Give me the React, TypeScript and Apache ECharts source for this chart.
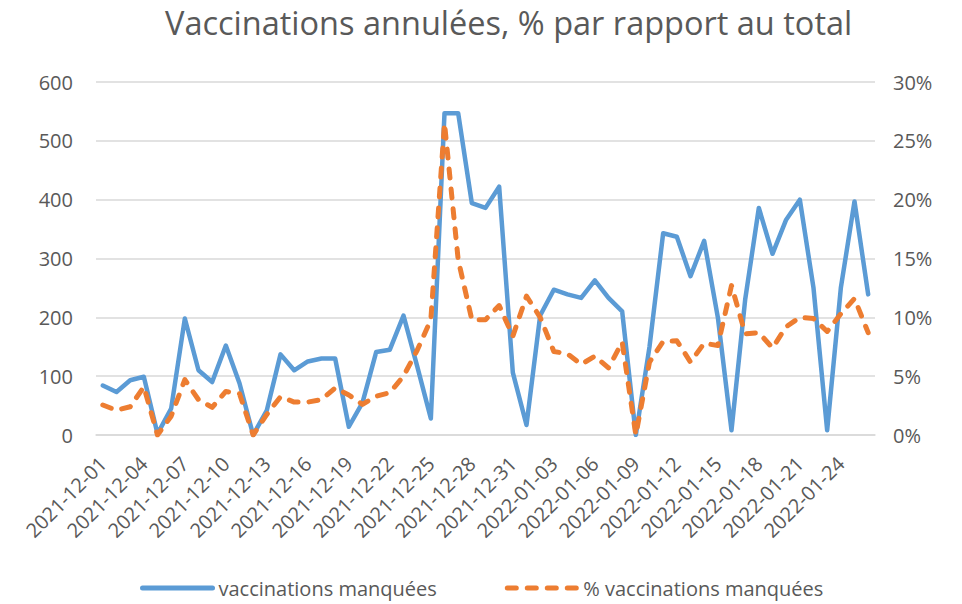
import React, { useEffect, useRef } from "react";
import * as echarts from "echarts";

const TITLE = "Vaccinations annulées, % par rapport au total";
const SERIES_COUNT_NAME = "vaccinations manquées";
const SERIES_PCT_NAME = "% vaccinations manquées";

const dates: string[] = [
  "2021-12-01", "2021-12-02", "2021-12-03", "2021-12-04", "2021-12-05", "2021-12-06", "2021-12-07",
  "2021-12-08", "2021-12-09", "2021-12-10", "2021-12-11", "2021-12-12", "2021-12-13", "2021-12-14",
  "2021-12-15", "2021-12-16", "2021-12-17", "2021-12-18", "2021-12-19", "2021-12-20", "2021-12-21",
  "2021-12-22", "2021-12-23", "2021-12-24", "2021-12-25", "2021-12-26", "2021-12-27", "2021-12-28",
  "2021-12-29", "2021-12-30", "2021-12-31", "2022-01-01", "2022-01-02", "2022-01-03", "2022-01-04",
  "2022-01-05", "2022-01-06", "2022-01-07", "2022-01-08", "2022-01-09", "2022-01-10", "2022-01-11",
  "2022-01-12", "2022-01-13", "2022-01-14", "2022-01-15", "2022-01-16", "2022-01-17", "2022-01-18",
  "2022-01-19", "2022-01-20", "2022-01-21", "2022-01-22", "2022-01-23", "2022-01-24", "2022-01-25",
  "2022-01-26",
];

const missedCounts: number[] = [
  84, 73, 93, 99, 2, 45, 198,
  110, 90, 152, 88, 0, 42, 137,
  110, 125, 130, 130, 14, 55, 141,
  145, 203, 117, 28, 547, 547, 394,
  386, 422, 106, 17, 203, 247, 239,
  233, 263, 233, 210, 0, 150, 343,
  337, 270, 330, 200, 8, 230, 386,
  308, 366, 400, 250, 8, 250, 397,
  239,
];

const missedPercent: number[] = [
  2.55, 2.1, 2.4, 4.1, 0, 1.6, 4.7,
  3.0, 2.35, 3.7, 3.5, 0, 1.75, 3.25,
  2.8, 2.8, 3.0, 4.0, 3.4, 2.6, 3.3,
  3.6, 5.0, 7.2, 9.8, 26.5, 14.9, 9.8,
  9.8, 11.0, 8.4, 11.8, 10.0, 7.1, 6.9,
  6.0, 6.7, 5.7, 7.9, 0, 6.2, 7.95,
  8.0, 6.2, 7.8, 7.6, 12.7, 8.6, 8.7,
  7.4, 9.2, 10.0, 9.9, 8.8, 10.3, 11.6,
  8.7,
];

const leftTicks = { min: 0, max: 600, interval: 100 };
const rightTicks = { min: 0, max: 30, interval: 5 };

const FONT = "'Open Sans', 'Liberation Sans', sans-serif";
const TEXT_COLOR = "#595959";
const GRID_COLOR = "#D9D9D9";
const BLUE = "#5B9BD5";
const ORANGE = "#ED7D31";

export default function App() {
  const ref = useRef<HTMLDivElement>(null);

  useEffect(() => {
    if (!ref.current) return;
    const chart = echarts.init(ref.current, undefined, { renderer: "svg" });
    chart.setOption({
      animation: false,
      backgroundColor: "#FFFFFF",
      textStyle: { fontFamily: FONT },
      title: {
        text: TITLE,
        left: 165,
        top: 6,
        padding: 0,
        textStyle: { fontFamily: FONT, fontSize: 32.5, fontWeight: "normal", color: TEXT_COLOR },
      },
      legend: {
        left: 140,
        top: 578,
        padding: 0,
        itemWidth: 70,
        itemHeight: 14,
        itemGap: 68,
        itemStyle: { opacity: 0 },
        lineStyle: { width: 5, cap: "round" },
        textStyle: { fontFamily: FONT, fontSize: 20, color: TEXT_COLOR, padding: [0, 0, 0, 1] },
        data: [SERIES_COUNT_NAME, SERIES_PCT_NAME],
      },
      grid: { left: 96, right: 87, top: 82, bottom: 169, containLabel: false },
      xAxis: {
        type: "category",
        data: dates,
        boundaryGap: true,
        axisLine: { show: true, lineStyle: { color: GRID_COLOR, width: 1.5 } },
        axisTick: { show: false },
        axisLabel: {
          interval: 2,
          rotate: 45,
          margin: 25,
          fontFamily: FONT,
          fontSize: 20,
          color: TEXT_COLOR,
        },
        splitLine: { show: false },
      },
      yAxis: [
        {
          type: "value",
          min: leftTicks.min,
          max: leftTicks.max,
          interval: leftTicks.interval,
          axisLine: { show: false },
          axisTick: { show: false },
          axisLabel: { margin: 23, fontFamily: FONT, fontSize: 20, color: TEXT_COLOR },
          splitLine: { show: true, lineStyle: { color: GRID_COLOR, width: 1.5 } },
        },
        {
          type: "value",
          min: rightTicks.min,
          max: rightTicks.max,
          interval: rightTicks.interval,
          position: "right",
          axisLine: { show: false },
          axisTick: { show: false },
          axisLabel: {
            margin: 18,
            fontFamily: FONT,
            fontSize: 20,
            color: TEXT_COLOR,
            formatter: "{value}%",
          },
          splitLine: { show: false },
        },
      ],
      series: [
        {
          name: SERIES_COUNT_NAME,
          type: "line",
          yAxisIndex: 0,
          data: missedCounts,
          showSymbol: false,
          symbol: "none",
          smooth: false,
          color: BLUE,
          lineStyle: { color: BLUE, width: 4.5, cap: "round", join: "round" },
          z: 2,
        },
        {
          name: SERIES_PCT_NAME,
          type: "line",
          yAxisIndex: 1,
          data: missedPercent,
          showSymbol: false,
          symbol: "none",
          smooth: false,
          color: ORANGE,
          lineStyle: { color: ORANGE, width: 5, type: [9, 11], cap: "round", join: "round" },
          z: 3,
        },
      ],
    });
    return () => chart.dispose();
  }, []);

  return (
    <div
      ref={ref}
      style={{ position: "fixed", left: 0, top: 0, width: 962, height: 604, background: "#fff" }}
    />
  );
}
